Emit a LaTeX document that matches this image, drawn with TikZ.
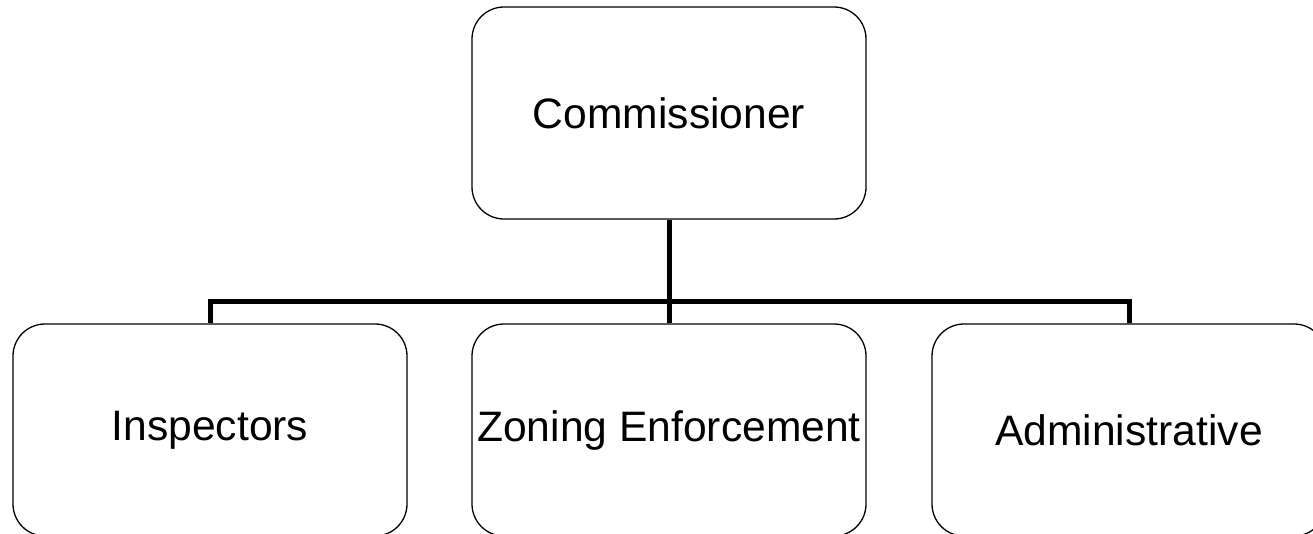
\documentclass[tikz,border=0pt]{standalone}
\usepackage{fontspec}
\setmainfont{Liberation Sans}
\begin{document}
\begin{tikzpicture}[x=1pt,y=-1pt,
  unit/.style={draw=black, line width=1.3pt, rounded corners=32pt,
    minimum width=394pt, minimum height=212pt, inner sep=0pt,
    font=\fontsize{42.6}{50}\selectfont},
  link/.style={draw=black, line width=5pt, line join=miter}]
\useasboundingbox (0,0) rectangle (1313,533);
\node[unit] (boss)  at (669,113) {Commissioner};
\node[unit] (insp)  at (210,430) {Inspectors};
\node[unit] (zone)  at (669,430) {Zoning Enforcement};
\node[unit] (admin) at (1129,430) {Administrative};
\coordinate (bus) at (669,301);
\draw[link] (boss.south) -- (bus);
\draw[link] (insp.north) |- (bus) -| (admin.north);
\draw[link] (bus) -- (zone.north);
\end{tikzpicture}
\end{document}
